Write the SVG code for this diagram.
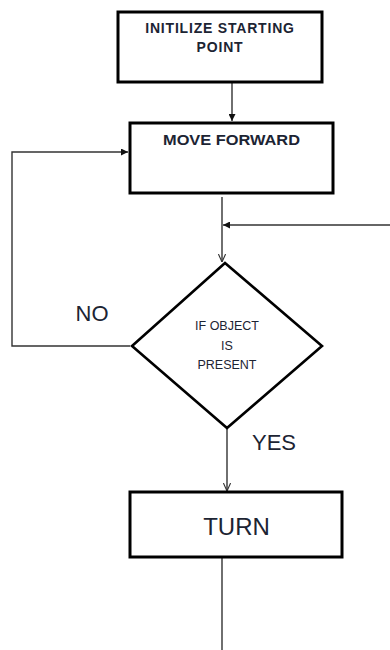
<svg xmlns="http://www.w3.org/2000/svg" width="390" height="650" viewBox="0 0 390 650">
<defs>
<style>
.box{fill:#fff;stroke:#000;stroke-width:3}
.dia{fill:#fff;stroke:#000;stroke-width:2.6;stroke-linejoin:miter}
.ln{fill:none;stroke:#333;stroke-width:1.4}
.open{fill:none;stroke:#333;stroke-width:1.3}
.t{font-family:"Liberation Sans",Arial,sans-serif;fill:#1c2433;text-anchor:middle}
.b{font-weight:bold;font-size:14px}
.s{font-size:12.5px}
.l{font-size:22px}
</style>
<marker id="fa" viewBox="0 0 10 10" refX="10" refY="5" markerWidth="7" markerHeight="7" markerUnits="userSpaceOnUse" orient="auto">
<path d="M0,0 L10,5 L0,10 Z" fill="#111"/>
</marker>
<marker id="oa" viewBox="0 0 10 10" refX="10" refY="5" markerWidth="8" markerHeight="8" markerUnits="userSpaceOnUse" orient="auto">
<path d="M0,0.5 L10,5 L0,9.5" fill="none" stroke="#333" stroke-width="1.4"/>
</marker>
</defs>
<rect width="390" height="650" fill="#fff"/>
<g id="connectors">
<line class="ln" x1="232" y1="83" x2="232" y2="121" marker-end="url(#fa)"/>
<polyline class="ln" points="130,346 12,346 12,152 128,152" marker-end="url(#fa)"/>
<line class="ln" x1="222" y1="197" x2="222" y2="262" marker-end="url(#oa)"/>
<line class="ln" x1="390" y1="225" x2="223" y2="225" marker-end="url(#fa)"/>
<line class="ln" x1="227" y1="428" x2="227" y2="491" marker-end="url(#oa)"/>
<line class="ln" x1="222" y1="558" x2="222" y2="650"/>
</g>
<g id="start">
<rect class="box" x="118" y="12" width="204" height="70"/>
<text class="t b" x="220" y="33" letter-spacing="0.8">INITILIZE STARTING</text>
<text class="t b" x="220" y="52" letter-spacing="0.8">POINT</text>
</g>
<g id="move">
<rect class="box" x="130" y="123" width="203" height="70"/>
<text class="t b" x="231.5" y="145" textLength="137" lengthAdjust="spacingAndGlyphs">MOVE FORWARD</text>
</g>
<g id="decision">
<polygon class="dia" points="225,263 322,346 227,428 132,346"/>
<text class="t s" x="227" y="330">IF OBJECT</text>
<text class="t s" x="227" y="350">IS</text>
<text class="t s" x="227" y="369">PRESENT</text>
</g>
<g id="turn">
<rect class="box" x="130" y="492" width="212" height="65"/>
<text class="t" x="236.5" y="535" font-size="24">TURN</text>
</g>
<g id="labels">
<text class="t l" x="92" y="321">NO</text>
<text class="t l" x="274" y="450">YES</text>
</g>
</svg>
